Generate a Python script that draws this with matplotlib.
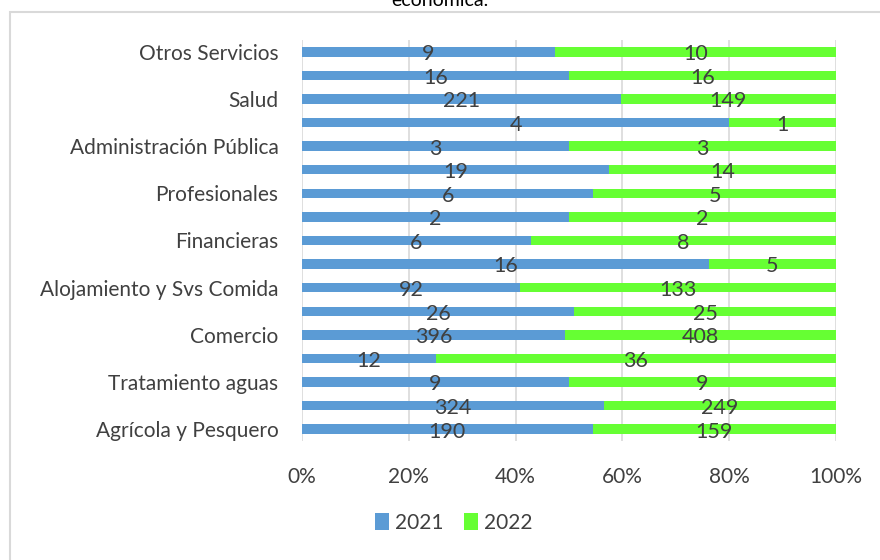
import numpy as np
import matplotlib
matplotlib.use("Agg")
import matplotlib.pyplot as plt
from matplotlib.patches import Rectangle

# categories bottom -> top (Excel only printed every other label)
categories = ["Agrícola y Pesquero", "", "Tratamiento aguas", "", "Comercio", "",
              "Alojamiento y Svs Comida", "", "Financieras", "", "Profesionales", "",
              "Administración Pública", "", "Salud", "", "Otros Servicios"]
vals_2021 = [190, 324, 9, 12, 396, 26, 92, 16, 6, 2, 6, 19, 3, 4, 221, 16, 9]
vals_2022 = [159, 249, 9, 36, 408, 25, 133, 5, 8, 2, 5, 14, 3, 1, 149, 16, 10]
series_names = ["2021", "2022"]
xticks = [0, 20, 40, 60, 80, 100]

BLUE = "#5B9BD5"
GREEN = "#66FF33"
TXT = "#404040"
GRID = "#D9D9D9"

plt.rcParams["font.family"] = ["Lato", "DejaVu Sans"]

fig = plt.figure(figsize=(8.8, 5.6), dpi=100)
ax = fig.add_axes([302 / 880, 1 - 441 / 560, 534 / 880, 401 / 560])

a = np.array(vals_2021, dtype=float)
b = np.array(vals_2022, dtype=float)
tot = a + b
pa = a / tot * 100
pb = b / tot * 100
y = np.arange(len(categories))

ax.barh(y, pa, height=0.4, color=BLUE, label=series_names[0], zorder=2)
ax.barh(y, pb, left=pa, height=0.4, color=GREEN, label=series_names[1], zorder=2)

for i in range(len(y)):
    ax.text(pa[i] / 2, y[i] - 0.1, str(vals_2021[i]), ha="center", va="center",
            fontsize=15.5, color=TXT, zorder=3)
    ax.text(pa[i] + pb[i] / 2, y[i] - 0.1, str(vals_2022[i]), ha="center", va="center",
            fontsize=15.5, color=TXT, zorder=3)

ax.set_xlim(0, 100)
ax.set_ylim(-0.5, len(categories) - 0.5)
ax.set_xticks(xticks)
ax.set_xticklabels([f"{t}%" for t in xticks], fontsize=15, color=TXT)
ax.set_yticks(y)
ax.set_yticklabels(categories, fontsize=15, color=TXT)
ax.tick_params(length=0)
ax.tick_params(axis="y", pad=17)
ax.tick_params(axis="x", pad=19)
ax.grid(axis="x", color=GRID, lw=1.2, zorder=0)
for s in ax.spines.values():
    s.set_visible(False)

leg = fig.legend(loc="center", bbox_to_anchor=(454 / 880, 1 - 523 / 560), ncol=2, frameon=False,
                 fontsize=15, handlelength=0.65, handleheight=0.9, handletextpad=0.3,
                 columnspacing=1.0)
for t in leg.get_texts():
    t.set_color(TXT)

# chart frame (right and bottom edges fall outside the crop)
fig.patches.append(Rectangle((10 / 880, -0.2), 1.2, 1.2 - 12 / 560,
                             transform=fig.transFigure, fill=False,
                             edgecolor=GRID, lw=1.5))
fig.text(0.5, 1 - 6 / 560, "económica.", ha="center", va="baseline",
         fontsize=14, color="black")

fig.savefig("out.png", dpi=100)
